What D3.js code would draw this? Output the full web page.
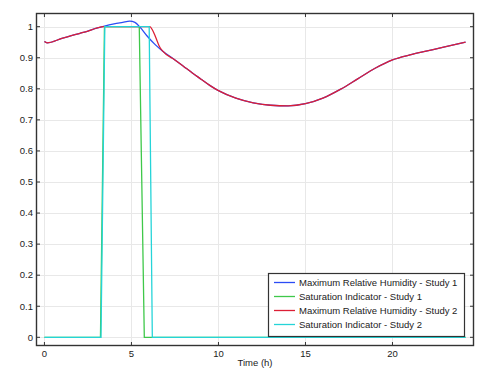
<!DOCTYPE html>
<html>
<head>
<meta charset="utf-8">
<script src="https://cdn.jsdelivr.net/npm/d3@7/dist/d3.min.js"></script>
<style>
  body { margin: 0; background: #fff; }
  svg { display: block; font-family: "Liberation Sans", Arial, sans-serif; }
</style>
</head>
<body>
<div id="chart"></div>
<script>
// time axis (h) and values
const rhTime1 = [0, 0.15, 1, 1.5, 2, 2.5, 3, 3.45, 4, 4.5, 4.9, 5.2, 5.5, 5.9, 6.35, 6.8, 7.5, 8, 8.5, 9, 9.5, 10, 11, 12, 13, 14, 15, 16, 17, 18, 19, 20, 21, 22, 23, 24.2];
const rhStudy1 = [0.952, 0.948, 0.962, 0.970, 0.978, 0.986, 0.995, 1.002, 1.009, 1.014, 1.018, 1.014, 0.998, 0.970, 0.943, 0.921, 0.893, 0.872, 0.851, 0.831, 0.811, 0.794, 0.770, 0.755, 0.747, 0.745, 0.752, 0.770, 0.798, 0.832, 0.866, 0.893, 0.909, 0.922, 0.935, 0.950];

const rhTime2 = [0, 0.15, 1, 1.5, 2, 2.5, 3, 3.4, 4.5, 6.06, 6.2, 6.4, 6.6, 6.8, 7.5, 8, 8.5, 9, 9.5, 10, 11, 12, 13, 14, 15, 16, 17, 18, 19, 20, 21, 22, 23, 24.2];
const rhStudy2 = [0.952, 0.948, 0.962, 0.970, 0.978, 0.986, 0.995, 1.0, 1.0, 1.0, 0.99, 0.965, 0.937, 0.921, 0.893, 0.872, 0.851, 0.831, 0.811, 0.794, 0.770, 0.755, 0.747, 0.745, 0.752, 0.770, 0.798, 0.832, 0.866, 0.893, 0.909, 0.922, 0.935, 0.950];

const satTime1 = [0, 3.22, 3.45, 5.45, 5.74, 24.2];
const satStudy1 = [0, 0, 1, 1, 0, 0];
const satTime2 = [0, 3.25, 3.47, 6.02, 6.2, 24.2];
const satStudy2 = [0, 0, 1, 1, 0, 0];

const xTicks = [0, 5, 10, 15, 20];
const yTicks = [0, 0.1, 0.2, 0.3, 0.4, 0.5, 0.6, 0.7, 0.8, 0.9, 1];

const legendLabels = [
  "Maximum Relative Humidity - Study 1",
  "Saturation Indicator - Study 1",
  "Maximum Relative Humidity - Study 2",
  "Saturation Indicator - Study 2"
];

const W = 483, H = 373;
const pLeft = 36, pRight = 474, pTop = 13, pBottom = 346;

const svg = d3.select("#chart").append("svg")
    .attr("width", W)
    .attr("height", H);

const x = d3.scaleLinear().domain([-0.484, 24.684]).range([pLeft, pRight]);
const y = d3.scaleLinear().domain([-0.028, 1.044]).range([pBottom, pTop]);

// grid
const grid = svg.append("g").attr("stroke", "#e8e8e8").attr("stroke-width", 1);
grid.selectAll(".gx").data(xTicks).join("line")
    .attr("x1", d => Math.round(x(d)) + 0.5).attr("x2", d => Math.round(x(d)) + 0.5)
    .attr("y1", pTop).attr("y2", pBottom);
grid.selectAll(".gy").data(yTicks).join("line")
    .attr("y1", d => Math.round(y(d)) + 0.5).attr("y2", d => Math.round(y(d)) + 0.5)
    .attr("x1", pLeft).attr("x2", pRight);

function series(xs, ys) {
  return xs.map((t, i) => [t, ys[i]]);
}

const smooth = d3.line().x(d => x(d[0])).y(d => y(d[1])).curve(d3.curveMonotoneX);
const straight = d3.line().x(d => x(d[0])).y(d => y(d[1]));

const lines = [
  {data: series(rhTime1, rhStudy1), color: "#2b4cf5", gen: smooth},
  {data: series(satTime1, satStudy1), color: "#3fc84a", gen: straight},
  {data: series(rhTime2, rhStudy2), color: "#dc1f35", gen: smooth},
  {data: series(satTime2, satStudy2), color: "#25d4d8", gen: straight}
];

svg.append("g").selectAll("path")
  .data(lines)
  .join("path")
    .attr("fill", "none")
    .attr("stroke", d => d.color)
    .attr("stroke-width", 1.3)
    .attr("d", d => d.gen(d.data));

// frame
const frame = svg.append("g").attr("stroke", "#333").attr("fill", "none");
frame.append("rect")
    .attr("x", pLeft + 0.5).attr("y", pTop + 0.5)
    .attr("width", pRight - pLeft - 1).attr("height", pBottom - pTop - 1)
    .attr("stroke-width", 1.4);

// inward ticks on all four sides
const tk = 4;
frame.selectAll(".tb").data(xTicks).join("line")
    .attr("x1", d => x(d)).attr("x2", d => x(d))
    .attr("y1", pBottom).attr("y2", pBottom - tk);
frame.selectAll(".tt").data(xTicks).join("line")
    .attr("x1", d => x(d)).attr("x2", d => x(d))
    .attr("y1", pTop).attr("y2", pTop + tk);
frame.selectAll(".tl").data(yTicks).join("line")
    .attr("y1", d => y(d)).attr("y2", d => y(d))
    .attr("x1", pLeft).attr("x2", pLeft + tk);
frame.selectAll(".tr").data(yTicks).join("line")
    .attr("y1", d => y(d)).attr("y2", d => y(d))
    .attr("x1", pRight).attr("x2", pRight - tk);

// tick labels
svg.append("g").selectAll("text").data(xTicks).join("text")
    .attr("x", d => x(d)).attr("y", pBottom + 11)
    .attr("text-anchor", "middle")
    .attr("font-size", 9.5).attr("fill", "#222")
    .text(d => d);
svg.append("g").selectAll("text").data(yTicks).join("text")
    .attr("x", pLeft - 3).attr("y", d => y(d) + 3.3)
    .attr("text-anchor", "end")
    .attr("font-size", 9.5).attr("fill", "#222")
    .text(d => d3.format("~g")(d));

svg.append("text")
    .attr("x", (pLeft + pRight) / 2).attr("y", 366)
    .attr("text-anchor", "middle")
    .attr("font-size", 9.5).attr("fill", "#222")
    .text("Time (h)");

// legend
const lg = svg.append("g").attr("transform", "translate(268,273)");
lg.append("rect")
    .attr("x", 0.5).attr("y", 0.5).attr("width", 196).attr("height", 63)
    .attr("fill", "#fff").attr("stroke", "#333").attr("stroke-width", 1.2);
const rows = lg.selectAll(".row").data(lines).join("g")
    .attr("transform", (d, i) => `translate(0,${9.5 + i * 14})`);
rows.append("line")
    .attr("x1", 6).attr("x2", 27)
    .attr("stroke", d => d.color).attr("stroke-width", 1.3);
rows.append("text")
    .attr("x", 31).attr("y", 3.3)
    .attr("font-size", 9.5).attr("fill", "#222")
    .text((d, i) => legendLabels[i]);
</script>
</body>
</html>
